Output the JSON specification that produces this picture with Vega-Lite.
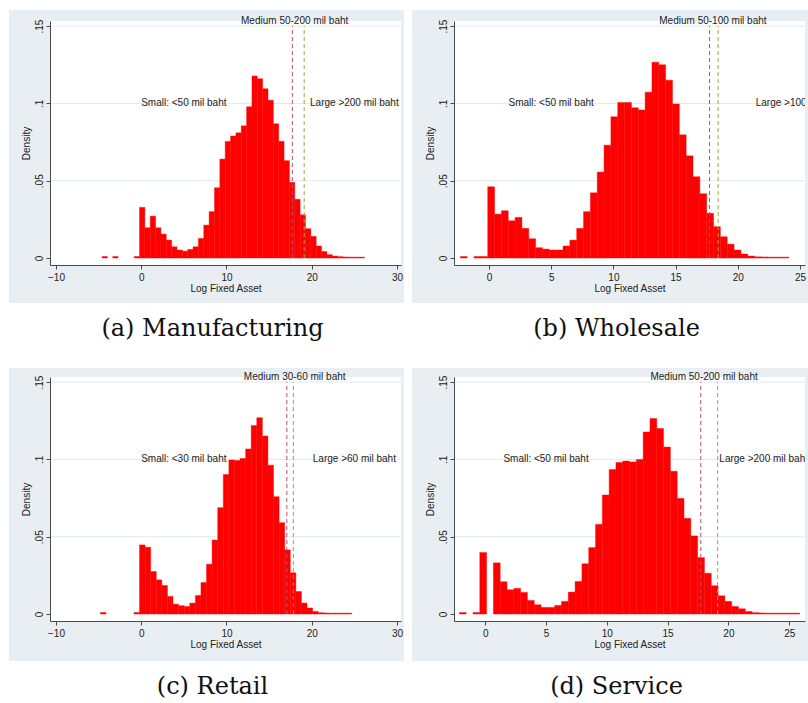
{
  "$schema": "https://vega.github.io/schema/vega-lite/v6.json",
  "background": "white",
  "padding": {"left": 8, "top": 10, "right": 0, "bottom": 0},
  "datasets": {
    "bars": [
      {"p":"a","x0":-4.596,"x1":-3.968,"d":0.001},
      {"p":"a","x0":-3.34,"x1":-2.712,"d":0.001},
      {"p":"a","x0":-0.828,"x1":-0.2,"d":0.001},
      {"p":"a","x0":-0.2,"x1":0.428,"d":0.0328},
      {"p":"a","x0":0.428,"x1":1.056,"d":0.0196},
      {"p":"a","x0":1.056,"x1":1.684,"d":0.0271},
      {"p":"a","x0":1.684,"x1":2.312,"d":0.0196},
      {"p":"a","x0":2.312,"x1":2.94,"d":0.0155},
      {"p":"a","x0":2.94,"x1":3.568,"d":0.0116},
      {"p":"a","x0":3.568,"x1":4.196,"d":0.0073},
      {"p":"a","x0":4.196,"x1":4.824,"d":0.0052},
      {"p":"a","x0":4.824,"x1":5.452,"d":0.0045},
      {"p":"a","x0":5.452,"x1":6.08,"d":0.0056},
      {"p":"a","x0":6.08,"x1":6.708,"d":0.0073},
      {"p":"a","x0":6.708,"x1":7.336,"d":0.0127},
      {"p":"a","x0":7.336,"x1":7.964,"d":0.0213},
      {"p":"a","x0":7.964,"x1":8.592,"d":0.030},
      {"p":"a","x0":8.592,"x1":9.22,"d":0.0455},
      {"p":"a","x0":9.22,"x1":9.848,"d":0.064},
      {"p":"a","x0":9.848,"x1":10.476,"d":0.0754},
      {"p":"a","x0":10.476,"x1":11.104,"d":0.0789},
      {"p":"a","x0":11.104,"x1":11.732,"d":0.081},
      {"p":"a","x0":11.732,"x1":12.36,"d":0.0855},
      {"p":"a","x0":12.36,"x1":12.988,"d":0.0978},
      {"p":"a","x0":12.988,"x1":13.616,"d":0.1178},
      {"p":"a","x0":13.616,"x1":14.244,"d":0.116},
      {"p":"a","x0":14.244,"x1":14.872,"d":0.1095},
      {"p":"a","x0":14.872,"x1":15.5,"d":0.102},
      {"p":"a","x0":15.5,"x1":16.128,"d":0.0868},
      {"p":"a","x0":16.128,"x1":16.756,"d":0.0755},
      {"p":"a","x0":16.756,"x1":17.384,"d":0.063},
      {"p":"a","x0":17.384,"x1":18.012,"d":0.049},
      {"p":"a","x0":18.012,"x1":18.64,"d":0.038},
      {"p":"a","x0":18.64,"x1":19.268,"d":0.028},
      {"p":"a","x0":19.268,"x1":19.896,"d":0.019},
      {"p":"a","x0":19.896,"x1":20.524,"d":0.014},
      {"p":"a","x0":20.524,"x1":21.152,"d":0.0078},
      {"p":"a","x0":21.152,"x1":21.78,"d":0.0043},
      {"p":"a","x0":21.78,"x1":22.408,"d":0.0022},
      {"p":"a","x0":22.408,"x1":23.036,"d":0.0013},
      {"p":"a","x0":23.036,"x1":23.664,"d":0.0009},
      {"p":"a","x0":23.664,"x1":24.292,"d":0.0007},
      {"p":"a","x0":24.292,"x1":24.92,"d":0.0006},
      {"p":"a","x0":24.92,"x1":25.548,"d":0.0006},
      {"p":"a","x0":25.548,"x1":26.176,"d":0.0006},

      {"p":"b","x0":-2.3,"x1":-1.75,"d":0.001},
      {"p":"b","x0":-1.2,"x1":-0.65,"d":0.001},
      {"p":"b","x0":-0.65,"x1":-0.1,"d":0.001},
      {"p":"b","x0":-0.1,"x1":0.45,"d":0.0461},
      {"p":"b","x0":0.45,"x1":1.0,"d":0.0284},
      {"p":"b","x0":1.0,"x1":1.55,"d":0.0306},
      {"p":"b","x0":1.55,"x1":2.1,"d":0.0241},
      {"p":"b","x0":2.1,"x1":2.65,"d":0.0263},
      {"p":"b","x0":2.65,"x1":3.2,"d":0.0192},
      {"p":"b","x0":3.2,"x1":3.75,"d":0.0125},
      {"p":"b","x0":3.75,"x1":4.3,"d":0.0067},
      {"p":"b","x0":4.3,"x1":4.85,"d":0.0058},
      {"p":"b","x0":4.85,"x1":5.4,"d":0.0052},
      {"p":"b","x0":5.4,"x1":5.95,"d":0.0052},
      {"p":"b","x0":5.95,"x1":6.5,"d":0.0078},
      {"p":"b","x0":6.5,"x1":7.05,"d":0.0116},
      {"p":"b","x0":7.05,"x1":7.6,"d":0.0192},
      {"p":"b","x0":7.6,"x1":8.15,"d":0.030},
      {"p":"b","x0":8.15,"x1":8.7,"d":0.0422},
      {"p":"b","x0":8.7,"x1":9.25,"d":0.0556},
      {"p":"b","x0":9.25,"x1":9.8,"d":0.073},
      {"p":"b","x0":9.8,"x1":10.35,"d":0.0914},
      {"p":"b","x0":10.35,"x1":10.9,"d":0.1006},
      {"p":"b","x0":10.9,"x1":11.45,"d":0.1006},
      {"p":"b","x0":11.45,"x1":12.0,"d":0.0972},
      {"p":"b","x0":12.0,"x1":12.55,"d":0.0957},
      {"p":"b","x0":12.55,"x1":13.1,"d":0.1073},
      {"p":"b","x0":13.1,"x1":13.65,"d":0.1267},
      {"p":"b","x0":13.65,"x1":14.2,"d":0.125},
      {"p":"b","x0":14.2,"x1":14.75,"d":0.115},
      {"p":"b","x0":14.75,"x1":15.3,"d":0.0996},
      {"p":"b","x0":15.3,"x1":15.85,"d":0.0797},
      {"p":"b","x0":15.85,"x1":16.4,"d":0.0661},
      {"p":"b","x0":16.4,"x1":16.95,"d":0.0526},
      {"p":"b","x0":16.95,"x1":17.5,"d":0.0416},
      {"p":"b","x0":17.5,"x1":18.05,"d":0.0289},
      {"p":"b","x0":18.05,"x1":18.6,"d":0.0203},
      {"p":"b","x0":18.6,"x1":19.15,"d":0.0138},
      {"p":"b","x0":19.15,"x1":19.7,"d":0.009},
      {"p":"b","x0":19.7,"x1":20.25,"d":0.0052},
      {"p":"b","x0":20.25,"x1":20.8,"d":0.0026},
      {"p":"b","x0":20.8,"x1":21.35,"d":0.0013},
      {"p":"b","x0":21.35,"x1":21.9,"d":0.0008},
      {"p":"b","x0":21.9,"x1":22.45,"d":0.0007},
      {"p":"b","x0":22.45,"x1":23.0,"d":0.0006},
      {"p":"b","x0":23.0,"x1":23.55,"d":0.0006},
      {"p":"b","x0":23.55,"x1":24.1,"d":0.0006},

      {"p":"c","x0":-4.785,"x1":-4.13,"d":0.001},
      {"p":"c","x0":-0.855,"x1":-0.2,"d":0.001},
      {"p":"c","x0":-0.2,"x1":0.455,"d":0.0447},
      {"p":"c","x0":0.455,"x1":1.11,"d":0.0432},
      {"p":"c","x0":1.11,"x1":1.765,"d":0.0275},
      {"p":"c","x0":1.765,"x1":2.42,"d":0.0221},
      {"p":"c","x0":2.42,"x1":3.075,"d":0.0185},
      {"p":"c","x0":3.075,"x1":3.73,"d":0.0114},
      {"p":"c","x0":3.73,"x1":4.385,"d":0.0064},
      {"p":"c","x0":4.385,"x1":5.04,"d":0.0054},
      {"p":"c","x0":5.04,"x1":5.695,"d":0.0049},
      {"p":"c","x0":5.695,"x1":6.35,"d":0.0071},
      {"p":"c","x0":6.35,"x1":7.005,"d":0.012},
      {"p":"c","x0":7.005,"x1":7.66,"d":0.0204},
      {"p":"c","x0":7.66,"x1":8.315,"d":0.0322},
      {"p":"c","x0":8.315,"x1":8.97,"d":0.0479},
      {"p":"c","x0":8.97,"x1":9.625,"d":0.0688},
      {"p":"c","x0":9.625,"x1":10.28,"d":0.0903},
      {"p":"c","x0":10.28,"x1":10.935,"d":0.0997},
      {"p":"c","x0":10.935,"x1":11.59,"d":0.0993},
      {"p":"c","x0":11.59,"x1":12.245,"d":0.1006},
      {"p":"c","x0":12.245,"x1":12.9,"d":0.1068},
      {"p":"c","x0":12.9,"x1":13.555,"d":0.1219},
      {"p":"c","x0":13.555,"x1":14.21,"d":0.127},
      {"p":"c","x0":14.21,"x1":14.865,"d":0.1152},
      {"p":"c","x0":14.865,"x1":15.52,"d":0.0963},
      {"p":"c","x0":15.52,"x1":16.175,"d":0.0759},
      {"p":"c","x0":16.175,"x1":16.83,"d":0.0591},
      {"p":"c","x0":16.83,"x1":17.485,"d":0.0415},
      {"p":"c","x0":17.485,"x1":18.14,"d":0.0267},
      {"p":"c","x0":18.14,"x1":18.795,"d":0.0146},
      {"p":"c","x0":18.795,"x1":19.45,"d":0.0071},
      {"p":"c","x0":19.45,"x1":20.105,"d":0.0039},
      {"p":"c","x0":20.105,"x1":20.76,"d":0.0017},
      {"p":"c","x0":20.76,"x1":21.415,"d":0.0009},
      {"p":"c","x0":21.415,"x1":22.07,"d":0.0007},
      {"p":"c","x0":22.07,"x1":22.725,"d":0.0006},
      {"p":"c","x0":22.725,"x1":23.38,"d":0.0006},
      {"p":"c","x0":23.38,"x1":24.035,"d":0.0006},
      {"p":"c","x0":24.035,"x1":24.69,"d":0.0006},

      {"p":"d","x0":-2.13,"x1":-1.57,"d":0.001},
      {"p":"d","x0":-1.01,"x1":-0.45,"d":0.001},
      {"p":"d","x0":-0.45,"x1":0.11,"d":0.0398},
      {"p":"d","x0":0.67,"x1":1.23,"d":0.0331},
      {"p":"d","x0":1.23,"x1":1.79,"d":0.0209},
      {"p":"d","x0":1.79,"x1":2.35,"d":0.0157},
      {"p":"d","x0":2.35,"x1":2.91,"d":0.0166},
      {"p":"d","x0":2.91,"x1":3.47,"d":0.014},
      {"p":"d","x0":3.47,"x1":4.03,"d":0.0088},
      {"p":"d","x0":4.03,"x1":4.59,"d":0.006},
      {"p":"d","x0":4.59,"x1":5.15,"d":0.0043},
      {"p":"d","x0":5.15,"x1":5.71,"d":0.0043},
      {"p":"d","x0":5.71,"x1":6.27,"d":0.0056},
      {"p":"d","x0":6.27,"x1":6.83,"d":0.0082},
      {"p":"d","x0":6.83,"x1":7.39,"d":0.0142},
      {"p":"d","x0":7.39,"x1":7.95,"d":0.0211},
      {"p":"d","x0":7.95,"x1":8.51,"d":0.0325},
      {"p":"d","x0":8.51,"x1":9.07,"d":0.043},
      {"p":"d","x0":9.07,"x1":9.63,"d":0.058},
      {"p":"d","x0":9.63,"x1":10.19,"d":0.077},
      {"p":"d","x0":10.19,"x1":10.75,"d":0.0935},
      {"p":"d","x0":10.75,"x1":11.31,"d":0.098},
      {"p":"d","x0":11.31,"x1":11.87,"d":0.0989},
      {"p":"d","x0":11.87,"x1":12.43,"d":0.0984},
      {"p":"d","x0":12.43,"x1":12.99,"d":0.1},
      {"p":"d","x0":12.99,"x1":13.55,"d":0.1178},
      {"p":"d","x0":13.55,"x1":14.11,"d":0.1264},
      {"p":"d","x0":14.11,"x1":14.67,"d":0.12},
      {"p":"d","x0":14.67,"x1":15.23,"d":0.108},
      {"p":"d","x0":15.23,"x1":15.79,"d":0.0924},
      {"p":"d","x0":15.79,"x1":16.35,"d":0.0748},
      {"p":"d","x0":16.35,"x1":16.91,"d":0.0619},
      {"p":"d","x0":16.91,"x1":17.47,"d":0.0505},
      {"p":"d","x0":17.47,"x1":18.03,"d":0.0365},
      {"p":"d","x0":18.03,"x1":18.59,"d":0.0264},
      {"p":"d","x0":18.59,"x1":19.15,"d":0.0183},
      {"p":"d","x0":19.15,"x1":19.71,"d":0.0118},
      {"p":"d","x0":19.71,"x1":20.27,"d":0.0082},
      {"p":"d","x0":20.27,"x1":20.83,"d":0.0049},
      {"p":"d","x0":20.83,"x1":21.39,"d":0.0034},
      {"p":"d","x0":21.39,"x1":21.95,"d":0.0017},
      {"p":"d","x0":21.95,"x1":22.51,"d":0.0009},
      {"p":"d","x0":22.51,"x1":23.07,"d":0.0007},
      {"p":"d","x0":23.07,"x1":23.63,"d":0.0006},
      {"p":"d","x0":23.63,"x1":24.19,"d":0.0006},
      {"p":"d","x0":24.19,"x1":24.75,"d":0.0006},
      {"p":"d","x0":24.75,"x1":25.31,"d":0.0006},
      {"p":"d","x0":25.31,"x1":25.87,"d":0.0006}
    ],
    "cuts": [
      {"p":"a","k":"lo","v":17.7275},{"p":"a","k":"hi","v":19.1138},
      {"p":"b","k":"lo","v":17.7275},{"p":"b","k":"hi","v":18.4207},
      {"p":"c","k":"lo","v":17.08},{"p":"c","k":"hi","v":17.84},
      {"p":"d","k":"lo","v":17.7275},{"p":"d","k":"hi","v":19.1138}
    ],
    "notes": [
      {"p":"a","k":"mid","x":18,"y":0.1535,"t":"Medium 50-200 mil baht"},
      {"p":"a","k":"side","x":5,"y":0.1,"t":"Small: <50 mil baht"},
      {"p":"a","k":"side","x":25,"y":0.1,"t":"Large >200 mil baht"},
      {"p":"b","k":"mid","x":18,"y":0.1535,"t":"Medium 50-100 mil baht"},
      {"p":"b","k":"side","x":5,"y":0.1,"t":"Small: <50 mil baht"},
      {"p":"b","k":"side","x":25,"y":0.1,"t":"Large >100 mil baht"},
      {"p":"c","k":"mid","x":18,"y":0.1535,"t":"Medium 30-60 mil baht"},
      {"p":"c","k":"side","x":5,"y":0.1,"t":"Small: <30 mil baht"},
      {"p":"c","k":"side","x":25,"y":0.1,"t":"Large >60 mil baht"},
      {"p":"d","k":"mid","x":18,"y":0.1535,"t":"Medium 50-200 mil baht"},
      {"p":"d","k":"side","x":5,"y":0.1,"t":"Small: <50 mil baht"},
      {"p":"d","k":"side","x":22.9,"y":0.1,"t":"Large >200 mil baht"}
    ]
  },
  "columns": 2,
  "spacing": {"row": 112, "column": 53},
  "bounds": "flush",
  "concat": [
    {
      "width": 351, "height": 244,
      "title": "(a) Manufacturing",
      "layer": [
        {"data": {"values": [{}]}, "mark": {"type": "rect", "color": "#e8eef1", "clip": false},
         "encoding": {
           "x": {"datum": -15.51, "type": "quantitative", "title": "Log Fixed Asset", "scale": {"domain": [-10.7, 30.47], "nice": false, "zero": false}, "axis": {"values": [-10, 0, 10, 20, 30], "zindex": 2}},
           "x2": {"datum": 30.82},
           "y": {"datum": 0.1604, "type": "quantitative", "title": "Density", "scale": {"domain": [-0.0045, 0.1533], "nice": false, "zero": false}, "axis": {"values": [0, 0.05, 0.1, 0.15], "zindex": 2}},
           "y2": {"datum": -0.0291}}},
        {"data": {"values": [{}]}, "mark": {"type": "rect", "color": "white"},
         "encoding": {"x": {"datum": -10.7, "type": "quantitative", "title": "Log Fixed Asset"}, "x2": {"datum": 30.47}, "y": {"datum": -0.0045, "type": "quantitative", "title": "Density"}, "y2": {"datum": 0.1533}}},
        {"data": {"values": [{"g": 0.05}, {"g": 0.1}, {"g": 0.15}]}, "mark": {"type": "rule", "color": "#e2e9ec", "strokeWidth": 1},
         "encoding": {"y": {"field": "g", "type": "quantitative", "title": "Density"}}},
        {"data": {"name": "bars"}, "transform": [{"filter": "datum.p == 'a'"}],
         "mark": {"type": "rect", "color": "#ff0000", "stroke": "#ff0000", "strokeWidth": 0.4},
         "encoding": {"x": {"field": "x0", "type": "quantitative", "title": "Log Fixed Asset"}, "x2": {"field": "x1"}, "y": {"field": "d", "type": "quantitative", "title": "Density"}, "y2": {"datum": 0}}},
        {"data": {"name": "cuts"}, "transform": [{"filter": "datum.p == 'a'"}],
         "mark": {"type": "rule", "strokeDash": [4, 3], "strokeWidth": 1},
         "encoding": {"x": {"field": "v", "type": "quantitative", "title": "Log Fixed Asset"}, "y": {"datum": 0, "type": "quantitative", "title": "Density"}, "y2": {"datum": 0.15},
           "color": {"field": "k", "type": "nominal", "scale": {"domain": ["lo", "hi"], "range": ["#b8506a", "#a4a43c"]}, "legend": null}}},
        {"data": {"name": "notes"}, "transform": [{"filter": "datum.p == 'a' && datum.k == 'side'"}],
         "mark": {"type": "text", "clip": true, "fontSize": 10, "color": "#222222", "align": "center", "baseline": "middle"},
         "encoding": {"x": {"field": "x", "type": "quantitative", "title": "Log Fixed Asset"}, "y": {"field": "y", "type": "quantitative", "title": "Density"}, "text": {"field": "t"}}},
        {"data": {"name": "notes"}, "transform": [{"filter": "datum.p == 'a' && datum.k == 'mid'"}],
         "mark": {"type": "text", "clip": false, "fontSize": 10, "color": "#222222", "align": "center", "baseline": "middle"},
         "encoding": {"x": {"field": "x", "type": "quantitative", "title": "Log Fixed Asset"}, "y": {"field": "y", "type": "quantitative", "title": "Density"}, "text": {"field": "t"}}}
      ]
    },
    {
      "width": 351, "height": 244,
      "title": "(b) Wholesale",
      "layer": [
        {"data": {"values": [{}]}, "mark": {"type": "rect", "color": "#e8eef1", "clip": false},
         "encoding": {
           "x": {"datum": -6.19, "type": "quantitative", "title": "Log Fixed Asset", "scale": {"domain": [-2.81, 25.4], "nice": false, "zero": false}, "axis": {"values": [0, 5, 10, 15, 20, 25], "zindex": 2}},
           "x2": {"datum": 25.72},
           "y": {"datum": 0.1604, "type": "quantitative", "title": "Density", "scale": {"domain": [-0.0045, 0.1533], "nice": false, "zero": false}, "axis": {"values": [0, 0.05, 0.1, 0.15], "zindex": 2}},
           "y2": {"datum": -0.0291}}},
        {"data": {"values": [{}]}, "mark": {"type": "rect", "color": "white"},
         "encoding": {"x": {"datum": -2.81, "type": "quantitative", "title": "Log Fixed Asset"}, "x2": {"datum": 25.4}, "y": {"datum": -0.0045, "type": "quantitative", "title": "Density"}, "y2": {"datum": 0.1533}}},
        {"data": {"values": [{"g": 0.05}, {"g": 0.1}, {"g": 0.15}]}, "mark": {"type": "rule", "color": "#e2e9ec", "strokeWidth": 1},
         "encoding": {"y": {"field": "g", "type": "quantitative", "title": "Density"}}},
        {"data": {"name": "bars"}, "transform": [{"filter": "datum.p == 'b'"}],
         "mark": {"type": "rect", "color": "#ff0000", "stroke": "#ff0000", "strokeWidth": 0.4},
         "encoding": {"x": {"field": "x0", "type": "quantitative", "title": "Log Fixed Asset"}, "x2": {"field": "x1"}, "y": {"field": "d", "type": "quantitative", "title": "Density"}, "y2": {"datum": 0}}},
        {"data": {"name": "cuts"}, "transform": [{"filter": "datum.p == 'b'"}],
         "mark": {"type": "rule", "strokeDash": [4, 3], "strokeWidth": 1},
         "encoding": {"x": {"field": "v", "type": "quantitative", "title": "Log Fixed Asset"}, "y": {"datum": 0, "type": "quantitative", "title": "Density"}, "y2": {"datum": 0.15},
           "color": {"field": "k", "type": "nominal", "scale": {"domain": ["lo", "hi"], "range": ["#b8506a", "#a4a43c"]}, "legend": null}}},
        {"data": {"name": "notes"}, "transform": [{"filter": "datum.p == 'b' && datum.k == 'side'"}],
         "mark": {"type": "text", "clip": true, "fontSize": 10, "color": "#222222", "align": "center", "baseline": "middle"},
         "encoding": {"x": {"field": "x", "type": "quantitative", "title": "Log Fixed Asset"}, "y": {"field": "y", "type": "quantitative", "title": "Density"}, "text": {"field": "t"}}},
        {"data": {"name": "notes"}, "transform": [{"filter": "datum.p == 'b' && datum.k == 'mid'"}],
         "mark": {"type": "text", "clip": false, "fontSize": 10, "color": "#222222", "align": "center", "baseline": "middle"},
         "encoding": {"x": {"field": "x", "type": "quantitative", "title": "Log Fixed Asset"}, "y": {"field": "y", "type": "quantitative", "title": "Density"}, "text": {"field": "t"}}}
      ]
    },
    {
      "width": 351, "height": 244,
      "title": "(c) Retail",
      "layer": [
        {"data": {"values": [{}]}, "mark": {"type": "rect", "color": "#e8eef1", "clip": false},
         "encoding": {
           "x": {"datum": -15.51, "type": "quantitative", "title": "Log Fixed Asset", "scale": {"domain": [-10.7, 30.47], "nice": false, "zero": false}, "axis": {"values": [-10, 0, 10, 20, 30], "zindex": 2}},
           "x2": {"datum": 30.82},
           "y": {"datum": 0.1591, "type": "quantitative", "title": "Density", "scale": {"domain": [-0.0045, 0.1533], "nice": false, "zero": false}, "axis": {"values": [0, 0.05, 0.1, 0.15], "zindex": 2}},
           "y2": {"datum": -0.0304}}},
        {"data": {"values": [{}]}, "mark": {"type": "rect", "color": "white"},
         "encoding": {"x": {"datum": -10.7, "type": "quantitative", "title": "Log Fixed Asset"}, "x2": {"datum": 30.47}, "y": {"datum": -0.0045, "type": "quantitative", "title": "Density"}, "y2": {"datum": 0.1533}}},
        {"data": {"values": [{"g": 0.05}, {"g": 0.1}, {"g": 0.15}]}, "mark": {"type": "rule", "color": "#e2e9ec", "strokeWidth": 1},
         "encoding": {"y": {"field": "g", "type": "quantitative", "title": "Density"}}},
        {"data": {"name": "bars"}, "transform": [{"filter": "datum.p == 'c'"}],
         "mark": {"type": "rect", "color": "#ff0000", "stroke": "#ff0000", "strokeWidth": 0.4},
         "encoding": {"x": {"field": "x0", "type": "quantitative", "title": "Log Fixed Asset"}, "x2": {"field": "x1"}, "y": {"field": "d", "type": "quantitative", "title": "Density"}, "y2": {"datum": 0}}},
        {"data": {"name": "cuts"}, "transform": [{"filter": "datum.p == 'c'"}],
         "mark": {"type": "rule", "strokeDash": [4, 3], "strokeWidth": 1},
         "encoding": {"x": {"field": "v", "type": "quantitative", "title": "Log Fixed Asset"}, "y": {"datum": 0, "type": "quantitative", "title": "Density"}, "y2": {"datum": 0.15},
           "color": {"field": "k", "type": "nominal", "scale": {"domain": ["lo", "hi"], "range": ["#b8506a", "#a4a43c"]}, "legend": null}}},
        {"data": {"name": "notes"}, "transform": [{"filter": "datum.p == 'c' && datum.k == 'side'"}],
         "mark": {"type": "text", "clip": true, "fontSize": 10, "color": "#222222", "align": "center", "baseline": "middle"},
         "encoding": {"x": {"field": "x", "type": "quantitative", "title": "Log Fixed Asset"}, "y": {"field": "y", "type": "quantitative", "title": "Density"}, "text": {"field": "t"}}},
        {"data": {"name": "notes"}, "transform": [{"filter": "datum.p == 'c' && datum.k == 'mid'"}],
         "mark": {"type": "text", "clip": false, "fontSize": 10, "color": "#222222", "align": "center", "baseline": "middle"},
         "encoding": {"x": {"field": "x", "type": "quantitative", "title": "Log Fixed Asset"}, "y": {"field": "y", "type": "quantitative", "title": "Density"}, "text": {"field": "t"}}}
      ]
    },
    {
      "width": 351, "height": 244,
      "title": "(d) Service",
      "layer": [
        {"data": {"values": [{}]}, "mark": {"type": "rect", "color": "#e8eef1", "clip": false},
         "encoding": {
           "x": {"datum": -6.02, "type": "quantitative", "title": "Log Fixed Asset", "scale": {"domain": [-2.57, 26.3], "nice": false, "zero": false}, "axis": {"values": [0, 5, 10, 15, 20, 25], "zindex": 2}},
           "x2": {"datum": 26.63},
           "y": {"datum": 0.1591, "type": "quantitative", "title": "Density", "scale": {"domain": [-0.0045, 0.1533], "nice": false, "zero": false}, "axis": {"values": [0, 0.05, 0.1, 0.15], "zindex": 2}},
           "y2": {"datum": -0.0304}}},
        {"data": {"values": [{}]}, "mark": {"type": "rect", "color": "white"},
         "encoding": {"x": {"datum": -2.57, "type": "quantitative", "title": "Log Fixed Asset"}, "x2": {"datum": 26.3}, "y": {"datum": -0.0045, "type": "quantitative", "title": "Density"}, "y2": {"datum": 0.1533}}},
        {"data": {"values": [{"g": 0.05}, {"g": 0.1}, {"g": 0.15}]}, "mark": {"type": "rule", "color": "#e2e9ec", "strokeWidth": 1},
         "encoding": {"y": {"field": "g", "type": "quantitative", "title": "Density"}}},
        {"data": {"name": "bars"}, "transform": [{"filter": "datum.p == 'd'"}],
         "mark": {"type": "rect", "color": "#ff0000", "stroke": "#ff0000", "strokeWidth": 0.4},
         "encoding": {"x": {"field": "x0", "type": "quantitative", "title": "Log Fixed Asset"}, "x2": {"field": "x1"}, "y": {"field": "d", "type": "quantitative", "title": "Density"}, "y2": {"datum": 0}}},
        {"data": {"name": "cuts"}, "transform": [{"filter": "datum.p == 'd'"}],
         "mark": {"type": "rule", "strokeDash": [4, 3], "strokeWidth": 1},
         "encoding": {"x": {"field": "v", "type": "quantitative", "title": "Log Fixed Asset"}, "y": {"datum": 0, "type": "quantitative", "title": "Density"}, "y2": {"datum": 0.15},
           "color": {"field": "k", "type": "nominal", "scale": {"domain": ["lo", "hi"], "range": ["#b8506a", "#a4a43c"]}, "legend": null}}},
        {"data": {"name": "notes"}, "transform": [{"filter": "datum.p == 'd' && datum.k == 'side'"}],
         "mark": {"type": "text", "clip": true, "fontSize": 10, "color": "#222222", "align": "center", "baseline": "middle"},
         "encoding": {"x": {"field": "x", "type": "quantitative", "title": "Log Fixed Asset"}, "y": {"field": "y", "type": "quantitative", "title": "Density"}, "text": {"field": "t"}}},
        {"data": {"name": "notes"}, "transform": [{"filter": "datum.p == 'd' && datum.k == 'mid'"}],
         "mark": {"type": "text", "clip": false, "fontSize": 10, "color": "#222222", "align": "center", "baseline": "middle"},
         "encoding": {"x": {"field": "x", "type": "quantitative", "title": "Log Fixed Asset"}, "y": {"field": "y", "type": "quantitative", "title": "Density"}, "text": {"field": "t"}}}
      ]
    }
  ],
  "config": {
    "view": {"stroke": null},
    "font": "Liberation Sans",
    "text": {"font": "Liberation Sans"},
    "axis": {
      "grid": false, "zindex": 2,
      "domainColor": "#4a4a4a", "tickColor": "#4a4a4a", "domainWidth": 1, "tickWidth": 1, "tickSize": 4,
      "labelColor": "#222222", "titleColor": "#222222",
      "labelFont": "Liberation Sans", "titleFont": "Liberation Sans",
      "labelFontSize": 10, "titleFontSize": 10, "titleFontWeight": "normal"
    },
    "axisX": {"labelPadding": 3, "titlePadding": 1, "labelFlush": false},
    "axisY": {
      "labelAngle": -90, "labelAlign": "center", "labelBaseline": "bottom", "labelPadding": 2, "titlePadding": 3,
      "labelExpr": "datum.value == 0 ? '0' : substring(format(datum.value, '.2~f'), 1)"
    },
    "title": {
      "orient": "bottom", "anchor": "middle", "frame": "group", "dx": -13, "offset": 14,
      "font": "DejaVu Serif", "fontSize": 24, "fontWeight": "normal", "color": "#111111", "baseline": "top"
    }
  }
}
